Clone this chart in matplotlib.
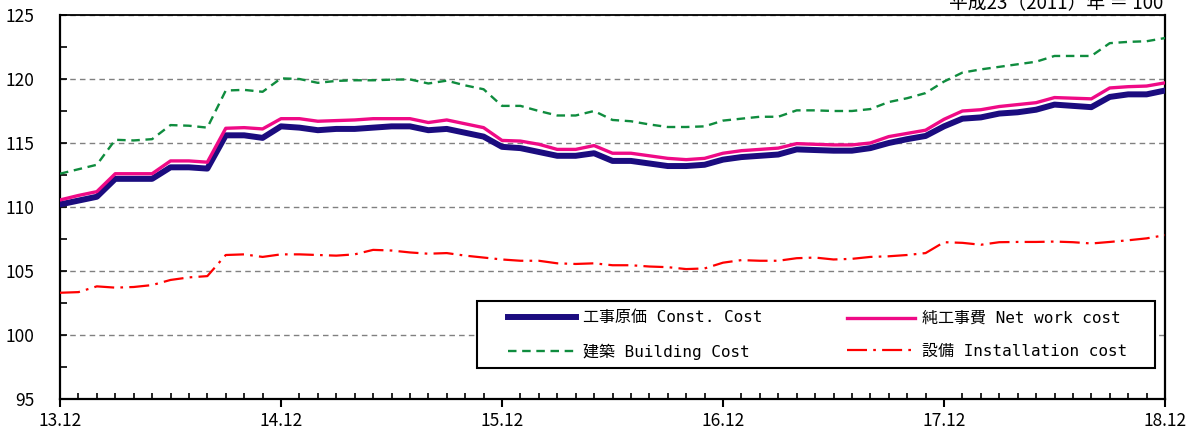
import matplotlib
matplotlib.use('Agg')
import matplotlib.pyplot as plt
from matplotlib.ticker import MultipleLocator, FixedLocator
from matplotlib.patches import Rectangle

# ---- data (monthly, 2013.12 - 2018.12) ----
x_labels = ['13.12', '14.12', '15.12', '16.12', '17.12', '18.12']

const_cost = [110.2, 110.5, 110.8, 112.2, 112.2, 112.2, 113.1, 113.1, 113.0, 115.6,
              115.6, 115.4, 116.3, 116.2, 116.0, 116.1, 116.1, 116.2, 116.3, 116.3,
              116.0, 116.1, 115.8, 115.5, 114.7, 114.6, 114.3, 114.0, 114.0, 114.2,
              113.6, 113.6, 113.4, 113.2, 113.2, 113.3, 113.7, 113.9, 114.0, 114.1,
              114.5, 114.45, 114.4, 114.4, 114.6, 115.0, 115.3, 115.55, 116.3, 116.9,
              117.0, 117.3, 117.4, 117.6, 118.0, 117.9, 117.8, 118.6, 118.8, 118.8,
              119.1]

net_work_cost = [110.55, 110.9, 111.2, 112.6, 112.6, 112.6, 113.6, 113.6, 113.5, 116.15,
                 116.2, 116.1, 116.9, 116.9, 116.7, 116.75, 116.8, 116.9, 116.9, 116.9,
                 116.6, 116.8, 116.5, 116.2, 115.2, 115.15, 114.9, 114.5, 114.5, 114.8,
                 114.2, 114.2, 114.0, 113.8, 113.7, 113.8, 114.2, 114.4, 114.5, 114.6,
                 114.95, 114.9, 114.85, 114.85, 115.0, 115.5, 115.75, 116.0, 116.85, 117.5,
                 117.6, 117.85, 118.0, 118.15, 118.55, 118.5, 118.45, 119.3, 119.4, 119.45,
                 119.7]

building_cost = [112.6, 112.95, 113.3, 115.25, 115.2, 115.3, 116.4, 116.35, 116.2, 119.1,
                 119.15, 119.0, 120.05, 120.0, 119.7, 119.85, 119.9, 119.9, 119.95, 119.97,
                 119.65, 119.87, 119.5, 119.2, 117.9, 117.9, 117.5, 117.15, 117.15, 117.5,
                 116.8, 116.7, 116.45, 116.25, 116.25, 116.3, 116.75, 116.9, 117.05, 117.05,
                 117.55, 117.55, 117.5, 117.5, 117.65, 118.2, 118.5, 118.9, 119.8, 120.5,
                 120.75, 120.95, 121.15, 121.35, 121.8, 121.8, 121.8, 122.8, 122.9, 122.95,
                 123.2]

installation_cost = [103.3, 103.35, 103.8, 103.7, 103.75, 103.9, 104.3, 104.5, 104.6, 106.25,
                     106.3, 106.1, 106.3, 106.3, 106.25, 106.2, 106.3, 106.65, 106.6, 106.45,
                     106.35, 106.4, 106.2, 106.05, 105.9, 105.8, 105.8, 105.6, 105.55, 105.6,
                     105.45, 105.45, 105.35, 105.3, 105.15, 105.2, 105.65, 105.85, 105.8, 105.8,
                     106.0, 106.05, 105.9, 105.95, 106.1, 106.15, 106.25, 106.4, 107.25, 107.2,
                     107.05, 107.25, 107.27, 107.27, 107.3, 107.25, 107.15, 107.27, 107.4, 107.55,
                     107.8]

labels = ['工事原価 Const. Cost', '建築 Building Cost',
          '純工事費 Net work cost', '設備 Installation cost']
base_note = '平成23（2011）年 ＝ 100'

months = list(range(len(const_cost)))

TICK_FONT = ['Noto Sans CJK JP', 'DejaVu Sans']
LEG_FONT = ['DejaVu Sans Mono', 'Noto Sans CJK JP']

fig = plt.figure(figsize=(11.97, 4.30), dpi=100)
ax = fig.add_axes([60 / 1197, 1 - 399 / 430, 1105 / 1197, 384 / 430])

l1, = ax.plot(months, const_cost, color='#1b0c7f', lw=4.3, solid_joinstyle='round', zorder=3)
l3, = ax.plot(months, net_work_cost, color='#ef0a86', lw=2.4, solid_joinstyle='round', zorder=4)
l2, = ax.plot(months, building_cost, color='#0f8c3e', lw=1.7, linestyle=(0, (3.6, 2.4)), zorder=3)
l4, = ax.plot(months, installation_cost, color='#ff0000', lw=1.6,
              linestyle=(0, (9.0, 2.8, 1.2, 2.8)), zorder=3)

ax.set_xlim(0, 60)
ax.set_ylim(95, 125)

ax.xaxis.set_major_locator(FixedLocator([0, 12, 24, 36, 48, 60]))
ax.set_xticklabels(x_labels)
ax.xaxis.set_minor_locator(MultipleLocator(1))
ax.yaxis.set_major_locator(MultipleLocator(5))
ax.yaxis.set_minor_locator(MultipleLocator(2.5))

ax.tick_params(axis='x', which='major', direction='out', length=6, width=1.5, pad=3)
ax.tick_params(axis='x', which='minor', direction='in', length=4, width=1.2)
ax.tick_params(axis='y', which='major', direction='in', length=5, width=1.2, pad=18.5)
ax.tick_params(axis='y', which='minor', direction='in', length=5, width=1.2)

for lab in ax.get_xticklabels() + ax.get_yticklabels():
    lab.set_fontfamily(TICK_FONT)
    lab.set_fontsize(12.5)

ax.set_axisbelow(True)
ax.yaxis.grid(True, which='major', color='#808080', linestyle=(0, (4, 3)), linewidth=1.0)

for side in ['left', 'bottom', 'right']:
    ax.spines[side].set_linewidth(1.6)
ax.spines['top'].set_linewidth(1.3)

# legend frame
frame = Rectangle((0.3774, 0.0807), 0.9910 - 0.3774, 0.2552 - 0.0807,
                  transform=ax.transAxes, facecolor='white', edgecolor='black',
                  linewidth=1.5, zorder=4.9)
ax.add_patch(frame)

leg_kw = dict(loc='center left', borderaxespad=0, borderpad=0, frameon=False,
              handlelength=4.26, handletextpad=0.44, labelspacing=1.11,
              prop={'family': LEG_FONT, 'size': 11.5})
leg1 = ax.legend([l1, l2], labels[:2], bbox_to_anchor=(0.4054, 0.1667), **leg_kw)
leg1.set_zorder(6)
ax.add_artist(leg1)
leg2 = ax.legend([l3, l4], labels[2:], bbox_to_anchor=(0.7122, 0.1667), **leg_kw)
leg2.set_zorder(6)

fig.text(1163 / 1197, 1 - 8 / 430, base_note, ha='right', va='baseline',
         fontsize=13.5, family=TICK_FONT)

fig.savefig('out.png', dpi=100)
